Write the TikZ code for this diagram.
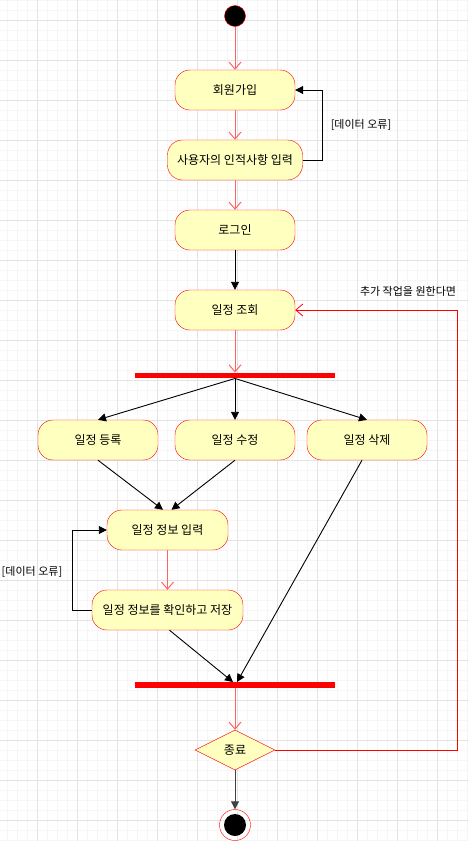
\documentclass[tikz,border=0pt]{standalone}
\usepackage{fontspec}
\setmainfont{Noto Sans CJK KR}
\usepackage{tikz}
\usetikzlibrary{shapes,arrows,positioning,calc,arrows.meta}
\definecolor{actfill}{RGB}{255,255,192}
\definecolor{flowred}{RGB}{255,100,100}

\begin{document}
\begin{tikzpicture}[x=1pt, y=-1pt, font=\fontsize{12}{14}\selectfont,
    act/.style={draw=red, fill=actfill, rounded corners=15pt, minimum width=120pt, minimum height=40pt, inner sep=2pt},
    bar/.style={fill=red, minimum width=200pt, minimum height=5.5pt, inner sep=0pt},
    redflow/.style={draw=flowred, line width=1pt, -{Straight Barb[length=7pt,width=12pt]}},
    blackflow/.style={draw=black, line width=0.9pt, -{Triangle[length=8pt,width=8pt]}},
    guard/.style={font=\fontsize{11}{13}\selectfont}]
    \useasboundingbox (0,0) rectangle (468,841);

    % Grid
    \foreach \gx in {7.5,17.5,...,467.5}
        \draw[gray!7, line width=0.6pt] (\gx,0) -- (\gx,841);
    \foreach \gy in {0.5,10.5,...,840.5}
        \draw[gray!7, line width=0.6pt] (0,\gy) -- (468,\gy);
    \foreach \gx in {37.5,77.5,...,437.5}
        \draw[gray!22, line width=0.6pt] (\gx,0) -- (\gx,841);
    \foreach \gy in {20.5,60.5,...,820.5}
        \draw[gray!22, line width=0.6pt] (0,\gy) -- (468,\gy);

    % Activities
    \node[circle, fill=black, draw=red, minimum size=21pt, inner sep=0pt] (start) at (235,16) {};
    \node[act] (join) at (235,90) {회원가입};
    \node[act, minimum width=135pt] (info) at (235,160) {사용자의 인적사항 입력};
    \node[act] (login) at (235,230) {로그인};
    \node[act] (view) at (235,310) {일정 조회};
    \node[bar] (fork) at (235,375.5) {};
    \foreach \x/\name/\txt in {98/add/일정 등록, 235/edit/일정 수정, 367/del/일정 삭제}
        \node[act] (\name) at (\x,440) {\txt};
    \node[act, minimum width=121pt] (input) at (167.5,530) {일정 정보 입력};
    \node[act, minimum width=151pt] (save) at (167.5,610) {일정 정보를 확인하고 저장};
    \node[bar] (merge) at (235,685) {};
    \node[diamond, aspect=2, draw=red, fill=actfill, minimum width=80pt, minimum height=40pt, inner sep=0pt] (quit) at (235,750) {종료};
    \node[circle, draw=red, minimum size=31pt, inner sep=0pt] (stop) at (235,825) {};
    \node[circle, fill=black, minimum size=22pt, inner sep=0pt] (stopdot) at (stop) {};

    % Guards
    \node[guard] (err1) at (361,125) {[데이터 오류]};
    \node[guard] (err2) at (32,572) {[데이터 오류]};
    \node[guard] (more) at (408,291) {추가 작업을 원한다면};

    \coordinate (loop1) at (322,90);
    \coordinate (loop2) at (72,530);
    \coordinate (loop3) at (457,310);

    % Flows
    \draw[redflow] (start) -- (join);
    \draw[redflow] (join) -- (info);
    \draw[redflow] (info) -- (login);
    \draw[blackflow] (info.east) -| (loop1) -- (join.east);
    \draw[blackflow] (login) -- (view);
    \draw[redflow] (view) -- (fork.north);
    \foreach \name in {add, edit, del}
        \draw[blackflow] (fork.south) -- (\name.north);
    \draw[blackflow] (add.south) -- ($(input.north)+(-4.5,0)$);
    \draw[blackflow] (edit.south) -- ($(input.north)+(4,0)$);
    \draw[redflow] (input) -- (save);
    \draw[blackflow] (save.west) -| (loop2) -- (input.west);
    \draw[blackflow] ($(save.south)+(2,0)$) -- ($(merge.north)+(-2,0)$);
    \draw[blackflow] ($(del.south)+(-5,0)$) -- ($(merge.north)+(2,0)$);
    \draw[redflow] (merge.south) -- (quit.north);
    \draw[draw=red, line width=0.8pt, -{Straight Barb[length=7pt,width=12pt]}] (quit.east) -| (loop3) -- (view.east);
    \draw[blackflow, draw=black!75] (quit) -- (stop);
\end{tikzpicture}
\end{document}
